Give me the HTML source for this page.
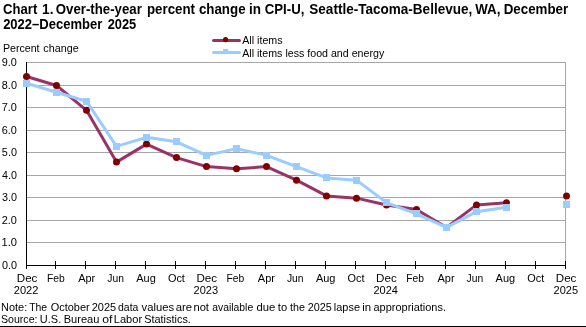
<!DOCTYPE html>
<html><head><meta charset="utf-8"><style>
html,body{margin:0;padding:0;background:#fff;width:586px;height:327px;overflow:hidden}
svg{display:block;will-change:transform;font-family:"Liberation Sans",sans-serif}
</style></head><body>
<svg width="586" height="327" viewBox="0 0 586 327">
<line x1="27" y1="242.5" x2="566" y2="242.5" stroke="#a6a6a6" stroke-width="1"/>
<line x1="27" y1="220.5" x2="566" y2="220.5" stroke="#a6a6a6" stroke-width="1"/>
<line x1="27" y1="197.5" x2="566" y2="197.5" stroke="#a6a6a6" stroke-width="1"/>
<line x1="27" y1="175.5" x2="566" y2="175.5" stroke="#a6a6a6" stroke-width="1"/>
<line x1="27" y1="152.5" x2="566" y2="152.5" stroke="#a6a6a6" stroke-width="1"/>
<line x1="27" y1="130.5" x2="566" y2="130.5" stroke="#a6a6a6" stroke-width="1"/>
<line x1="27" y1="107.5" x2="566" y2="107.5" stroke="#a6a6a6" stroke-width="1"/>
<line x1="27" y1="85.5" x2="566" y2="85.5" stroke="#a6a6a6" stroke-width="1"/>
<line x1="27" y1="62.5" x2="566" y2="62.5" stroke="#a6a6a6" stroke-width="1"/>
<line x1="565.5" y1="62" x2="565.5" y2="265" stroke="#a6a6a6" stroke-width="1"/>
<line x1="26.5" y1="62" x2="26.5" y2="269" stroke="#000" stroke-width="1"/>
<line x1="26" y1="265.5" x2="566" y2="265.5" stroke="#000" stroke-width="1"/>
<line x1="26.5" y1="261" x2="26.5" y2="269" stroke="#000" stroke-width="1"/>
<line x1="55.5" y1="261" x2="55.5" y2="269" stroke="#000" stroke-width="1"/>
<line x1="85.5" y1="261" x2="85.5" y2="269" stroke="#000" stroke-width="1"/>
<line x1="115.5" y1="261" x2="115.5" y2="269" stroke="#000" stroke-width="1"/>
<line x1="145.5" y1="261" x2="145.5" y2="269" stroke="#000" stroke-width="1"/>
<line x1="175.5" y1="261" x2="175.5" y2="269" stroke="#000" stroke-width="1"/>
<line x1="205.5" y1="261" x2="205.5" y2="269" stroke="#000" stroke-width="1"/>
<line x1="235.5" y1="261" x2="235.5" y2="269" stroke="#000" stroke-width="1"/>
<line x1="265.5" y1="261" x2="265.5" y2="269" stroke="#000" stroke-width="1"/>
<line x1="295.5" y1="261" x2="295.5" y2="269" stroke="#000" stroke-width="1"/>
<line x1="325.5" y1="261" x2="325.5" y2="269" stroke="#000" stroke-width="1"/>
<line x1="355.5" y1="261" x2="355.5" y2="269" stroke="#000" stroke-width="1"/>
<line x1="385.5" y1="261" x2="385.5" y2="269" stroke="#000" stroke-width="1"/>
<line x1="415.5" y1="261" x2="415.5" y2="269" stroke="#000" stroke-width="1"/>
<line x1="445.5" y1="261" x2="445.5" y2="269" stroke="#000" stroke-width="1"/>
<line x1="475.5" y1="261" x2="475.5" y2="269" stroke="#000" stroke-width="1"/>
<line x1="505.5" y1="261" x2="505.5" y2="269" stroke="#000" stroke-width="1"/>
<line x1="535.5" y1="261" x2="535.5" y2="269" stroke="#000" stroke-width="1"/>
<line x1="565.5" y1="261" x2="565.5" y2="269" stroke="#000" stroke-width="1"/>
<polyline points="26.50,76.50 56.50,85.51 86.50,110.29 116.50,162.11 146.50,144.09 176.50,157.61 206.50,166.62 236.50,168.87 266.50,166.62 296.50,180.14 326.50,195.91 356.50,198.16 386.50,204.92 416.50,209.43 446.50,227.45 476.50,204.92 506.50,202.67" fill="none" stroke="#993366" stroke-width="3" stroke-linejoin="round" stroke-linecap="round"/>
<circle cx="26.50" cy="76.50" r="3.5" fill="#800000"/>
<circle cx="56.50" cy="85.51" r="3.5" fill="#800000"/>
<circle cx="86.50" cy="110.29" r="3.5" fill="#800000"/>
<circle cx="116.50" cy="162.11" r="3.5" fill="#800000"/>
<circle cx="146.50" cy="144.09" r="3.5" fill="#800000"/>
<circle cx="176.50" cy="157.61" r="3.5" fill="#800000"/>
<circle cx="206.50" cy="166.62" r="3.5" fill="#800000"/>
<circle cx="236.50" cy="168.87" r="3.5" fill="#800000"/>
<circle cx="266.50" cy="166.62" r="3.5" fill="#800000"/>
<circle cx="296.50" cy="180.14" r="3.5" fill="#800000"/>
<circle cx="326.50" cy="195.91" r="3.5" fill="#800000"/>
<circle cx="356.50" cy="198.16" r="3.5" fill="#800000"/>
<circle cx="386.50" cy="204.92" r="3.5" fill="#800000"/>
<circle cx="416.50" cy="209.43" r="3.5" fill="#800000"/>
<circle cx="476.50" cy="204.92" r="3.5" fill="#800000"/>
<circle cx="506.50" cy="202.67" r="3.5" fill="#800000"/>
<circle cx="566.50" cy="195.91" r="3.5" fill="#800000"/>
<polyline points="26.50,83.26 56.50,92.27 86.50,101.28 116.50,146.34 146.50,137.33 176.50,141.83 206.50,155.35 236.50,148.59 266.50,155.35 296.50,166.62 326.50,177.88 356.50,180.14 386.50,202.67 416.50,213.93 446.50,227.45 476.50,211.68 506.50,207.17" fill="none" stroke="#99ccff" stroke-width="3" stroke-linejoin="round" stroke-linecap="round"/>
<rect x="23" y="80" width="7" height="7" fill="#99ccff"/>
<rect x="53" y="89" width="7" height="7" fill="#99ccff"/>
<rect x="83" y="98" width="7" height="7" fill="#99ccff"/>
<rect x="113" y="143" width="7" height="7" fill="#99ccff"/>
<rect x="143" y="134" width="7" height="7" fill="#99ccff"/>
<rect x="173" y="138" width="7" height="7" fill="#99ccff"/>
<rect x="203" y="152" width="7" height="7" fill="#99ccff"/>
<rect x="233" y="145" width="7" height="7" fill="#99ccff"/>
<rect x="263" y="152" width="7" height="7" fill="#99ccff"/>
<rect x="293" y="163" width="7" height="7" fill="#99ccff"/>
<rect x="323" y="174" width="7" height="7" fill="#99ccff"/>
<rect x="353" y="177" width="7" height="7" fill="#99ccff"/>
<rect x="383" y="199" width="7" height="7" fill="#99ccff"/>
<rect x="413" y="210" width="7" height="7" fill="#99ccff"/>
<rect x="443" y="224" width="7" height="7" fill="#99ccff"/>
<rect x="473" y="208" width="7" height="7" fill="#99ccff"/>
<rect x="503" y="204" width="7" height="7" fill="#99ccff"/>
<rect x="563" y="201" width="7" height="7" fill="#99ccff"/>
<line x1="213.5" y1="40.4" x2="239.5" y2="40.4" stroke="#993366" stroke-width="3" stroke-linecap="round"/>
<circle cx="225.6" cy="39.6" r="2.6" fill="#800000"/>
<line x1="213.5" y1="52.6" x2="239.5" y2="52.6" stroke="#99ccff" stroke-width="3" stroke-linecap="round"/>
<rect x="223" y="49" width="5.2" height="5" fill="#99ccff"/>
<rect x="0" y="326" width="586" height="1" fill="#000"/>
<text x="3.06" y="13.85" font-size="14.2" font-weight="bold" textLength="34.20" lengthAdjust="spacingAndGlyphs">Chart</text>
<text x="42.04" y="13.85" font-size="14.2" font-weight="bold" textLength="11.40" lengthAdjust="spacingAndGlyphs">1.</text>
<text x="55.76" y="13.85" font-size="14.2" font-weight="bold" textLength="86.04" lengthAdjust="spacingAndGlyphs">Over-the-year</text>
<text x="146.92" y="13.85" font-size="14.2" font-weight="bold" textLength="48.14" lengthAdjust="spacingAndGlyphs">percent</text>
<text x="198.88" y="13.85" font-size="14.2" font-weight="bold" textLength="46.68" lengthAdjust="spacingAndGlyphs">change</text>
<text x="248.96" y="13.85" font-size="14.2" font-weight="bold" textLength="11.98" lengthAdjust="spacingAndGlyphs">in</text>
<text x="264.76" y="13.85" font-size="14.2" font-weight="bold" textLength="39.63" lengthAdjust="spacingAndGlyphs">CPI-U,</text>
<text x="309.31" y="13.85" font-size="14.2" font-weight="bold" textLength="162.99" lengthAdjust="spacingAndGlyphs">Seattle-Tacoma-Bellevue,</text>
<text x="475.19" y="13.85" font-size="14.2" font-weight="bold" textLength="25.18" lengthAdjust="spacingAndGlyphs">WA,</text>
<text x="503.71" y="13.85" font-size="14.2" font-weight="bold" textLength="64.49" lengthAdjust="spacingAndGlyphs">December</text>
<text x="3.15" y="28.60" font-size="14.2" font-weight="bold" textLength="99.05" lengthAdjust="spacingAndGlyphs">2022–December</text>
<text x="107.65" y="28.60" font-size="14.2" font-weight="bold" textLength="28.60" lengthAdjust="spacingAndGlyphs">2025</text>
<text x="2.88" y="51.70" font-size="10.9" textLength="36.70" lengthAdjust="spacingAndGlyphs">Percent</text>
<text x="43.29" y="51.70" font-size="10.9" textLength="35.39" lengthAdjust="spacingAndGlyphs">change</text>
<text x="1.88" y="269.00" font-size="11.2" textLength="15.05" lengthAdjust="spacingAndGlyphs">0.0</text>
<text x="1.45" y="246.44" font-size="11.2" textLength="15.48" lengthAdjust="spacingAndGlyphs">1.0</text>
<text x="1.75" y="223.89" font-size="11.2" textLength="15.18" lengthAdjust="spacingAndGlyphs">2.0</text>
<text x="1.89" y="201.33" font-size="11.2" textLength="15.03" lengthAdjust="spacingAndGlyphs">3.0</text>
<text x="2.05" y="178.78" font-size="11.2" textLength="14.86" lengthAdjust="spacingAndGlyphs">4.0</text>
<text x="1.87" y="156.22" font-size="11.2" textLength="15.06" lengthAdjust="spacingAndGlyphs">5.0</text>
<text x="1.75" y="133.67" font-size="11.2" textLength="15.18" lengthAdjust="spacingAndGlyphs">6.0</text>
<text x="1.74" y="111.11" font-size="11.2" textLength="15.19" lengthAdjust="spacingAndGlyphs">7.0</text>
<text x="1.83" y="88.56" font-size="11.2" textLength="15.10" lengthAdjust="spacingAndGlyphs">8.0</text>
<text x="1.79" y="66.00" font-size="11.2" textLength="15.14" lengthAdjust="spacingAndGlyphs">9.0</text>
<text x="16.75" y="281.80" font-size="10.9" textLength="20.66" lengthAdjust="spacingAndGlyphs">Dec</text>
<text x="13.74" y="293.60" font-size="10.9" textLength="24.61" lengthAdjust="spacingAndGlyphs">2022</text>
<text x="46.90" y="281.80" font-size="10.9" textLength="17.78" lengthAdjust="spacingAndGlyphs">Feb</text>
<text x="78.17" y="281.80" font-size="10.9" textLength="17.10" lengthAdjust="spacingAndGlyphs">Apr</text>
<text x="107.27" y="281.80" font-size="10.9" textLength="16.63" lengthAdjust="spacingAndGlyphs">Jun</text>
<text x="136.26" y="281.80" font-size="10.9" textLength="19.53" lengthAdjust="spacingAndGlyphs">Aug</text>
<text x="167.90" y="281.80" font-size="10.9" textLength="17.00" lengthAdjust="spacingAndGlyphs">Oct</text>
<text x="196.41" y="281.80" font-size="10.9" textLength="20.66" lengthAdjust="spacingAndGlyphs">Dec</text>
<text x="193.50" y="293.60" font-size="10.9" textLength="24.54" lengthAdjust="spacingAndGlyphs">2023</text>
<text x="226.56" y="281.80" font-size="10.9" textLength="17.78" lengthAdjust="spacingAndGlyphs">Feb</text>
<text x="257.83" y="281.80" font-size="10.9" textLength="17.10" lengthAdjust="spacingAndGlyphs">Apr</text>
<text x="286.94" y="281.80" font-size="10.9" textLength="16.63" lengthAdjust="spacingAndGlyphs">Jun</text>
<text x="315.92" y="281.80" font-size="10.9" textLength="19.53" lengthAdjust="spacingAndGlyphs">Aug</text>
<text x="347.57" y="281.80" font-size="10.9" textLength="17.00" lengthAdjust="spacingAndGlyphs">Oct</text>
<text x="376.08" y="281.80" font-size="10.9" textLength="20.66" lengthAdjust="spacingAndGlyphs">Dec</text>
<text x="373.50" y="293.60" font-size="10.9" textLength="24.37" lengthAdjust="spacingAndGlyphs">2024</text>
<text x="406.23" y="281.80" font-size="10.9" textLength="17.78" lengthAdjust="spacingAndGlyphs">Feb</text>
<text x="437.50" y="281.80" font-size="10.9" textLength="17.10" lengthAdjust="spacingAndGlyphs">Apr</text>
<text x="466.61" y="281.80" font-size="10.9" textLength="16.63" lengthAdjust="spacingAndGlyphs">Jun</text>
<text x="495.59" y="281.80" font-size="10.9" textLength="19.53" lengthAdjust="spacingAndGlyphs">Aug</text>
<text x="527.24" y="281.80" font-size="10.9" textLength="17.00" lengthAdjust="spacingAndGlyphs">Oct</text>
<text x="555.75" y="281.80" font-size="10.9" textLength="20.66" lengthAdjust="spacingAndGlyphs">Dec</text>
<text x="553.50" y="293.60" font-size="10.9" textLength="24.52" lengthAdjust="spacingAndGlyphs">2025</text>
<text x="242.23" y="43.70" font-size="10.9" textLength="40.36" lengthAdjust="spacingAndGlyphs">All items</text>
<text x="242.23" y="56.80" font-size="10.9" textLength="141.99" lengthAdjust="spacingAndGlyphs">All items less food and energy</text>
<text x="1.00" y="310.70" font-size="10.9" textLength="26.20" lengthAdjust="spacingAndGlyphs">Note:</text>
<text x="29.17" y="310.70" font-size="10.9" textLength="18.00" lengthAdjust="spacingAndGlyphs">The</text>
<text x="50.68" y="310.70" font-size="10.9" textLength="39.00" lengthAdjust="spacingAndGlyphs">October</text>
<text x="91.75" y="310.70" font-size="10.9" textLength="24.41" lengthAdjust="spacingAndGlyphs">2025</text>
<text x="118.06" y="310.70" font-size="10.9" textLength="20.34" lengthAdjust="spacingAndGlyphs">data</text>
<text x="141.56" y="310.70" font-size="10.9" textLength="32.55" lengthAdjust="spacingAndGlyphs">values</text>
<text x="175.72" y="310.70" font-size="10.9" textLength="16.39" lengthAdjust="spacingAndGlyphs">are</text>
<text x="193.46" y="310.70" font-size="10.9" textLength="15.52" lengthAdjust="spacingAndGlyphs">not</text>
<text x="212.26" y="310.70" font-size="10.9" textLength="40.90" lengthAdjust="spacingAndGlyphs">available</text>
<text x="256.42" y="310.70" font-size="10.9" textLength="18.88" lengthAdjust="spacingAndGlyphs">due</text>
<text x="277.83" y="310.70" font-size="10.9" textLength="9.34" lengthAdjust="spacingAndGlyphs">to</text>
<text x="289.94" y="310.70" font-size="10.9" textLength="14.94" lengthAdjust="spacingAndGlyphs">the</text>
<text x="307.76" y="310.70" font-size="10.9" textLength="24.10" lengthAdjust="spacingAndGlyphs">2025</text>
<text x="333.86" y="310.70" font-size="10.9" textLength="26.12" lengthAdjust="spacingAndGlyphs">lapse</text>
<text x="362.23" y="310.70" font-size="10.9" textLength="8.91" lengthAdjust="spacingAndGlyphs">in</text>
<text x="373.53" y="310.70" font-size="10.9" textLength="72.47" lengthAdjust="spacingAndGlyphs">appropriations.</text>
<text x="1.02" y="323.10" font-size="10.9" textLength="36.45" lengthAdjust="spacingAndGlyphs">Source:</text>
<text x="39.85" y="323.10" font-size="10.9" textLength="21.35" lengthAdjust="spacingAndGlyphs">U.S.</text>
<text x="63.69" y="323.10" font-size="10.9" textLength="35.75" lengthAdjust="spacingAndGlyphs">Bureau</text>
<text x="102.19" y="323.10" font-size="10.9" textLength="10.20" lengthAdjust="spacingAndGlyphs">of</text>
<text x="113.79" y="323.10" font-size="10.9" textLength="28.29" lengthAdjust="spacingAndGlyphs">Labor</text>
<text x="144.20" y="323.10" font-size="10.9" textLength="46.69" lengthAdjust="spacingAndGlyphs">Statistics.</text>
</svg>
</body></html>
